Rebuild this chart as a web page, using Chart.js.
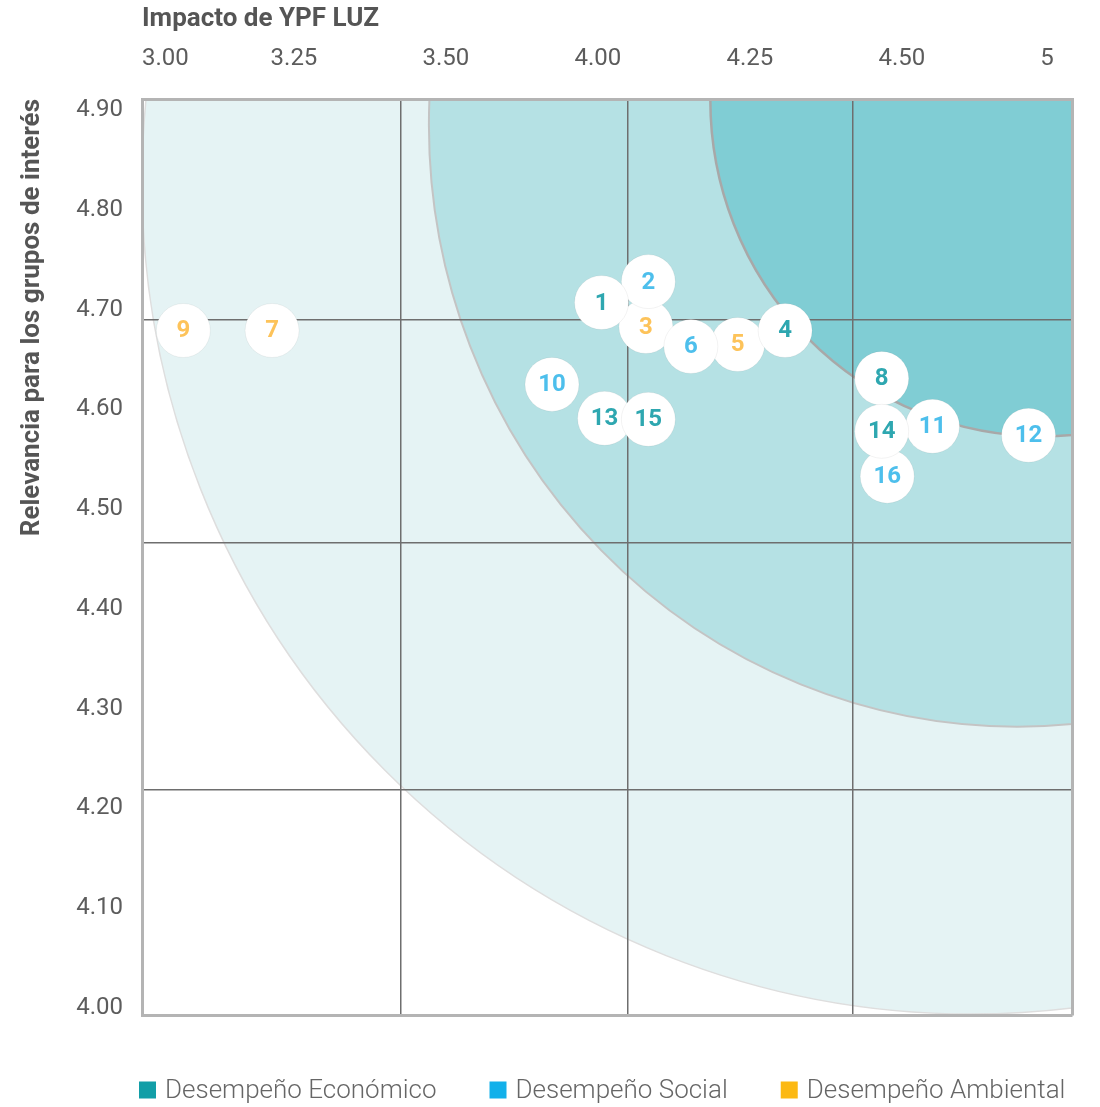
<!DOCTYPE html>
<html>
<head>
<meta charset="utf-8">
<script src="https://cdn.jsdelivr.net/npm/chart.js@4.4.1/dist/chart.umd.min.js"></script>
<style>
  html, body { margin: 0; padding: 0; background: #ffffff; }
  #wrap { width: 1100px; height: 1107px; position: relative; }
</style>
</head>
<body>
<div id="wrap"><canvas id="chart"></canvas></div>
<script>
// ---------- data ----------
const categories = ['Desempeño Económico', 'Desempeño Social', 'Desempeño Ambiental'];

const economicIds        = [1, 4, 8, 13, 14, 15];
const economicImpact     = [4.006, 4.308, 4.467, 4.011, 4.467, 4.083];
const economicRelevance  = [4.707, 4.679, 4.631, 4.591, 4.578, 4.590];

const socialIds          = [2, 6, 10, 11, 12, 16];
const socialImpact       = [4.083, 4.153, 3.849, 4.601, 4.917, 4.476];
const socialRelevance    = [4.728, 4.663, 4.625, 4.583, 4.574, 4.533];

const environmentalIds       = [3, 5, 7, 9];
const environmentalImpact    = [4.079, 4.230, 3.214, 3.068];
const environmentalRelevance = [4.683, 4.665, 4.679, 4.679];

const xTickValues = [3.00, 3.25, 3.50, 4.00, 4.25, 4.50, 5];
const xTickLabels = ['3.00', '3.25', '3.50', '4.00', '4.25', '4.50', '5'];
const yTickValues = [4.00, 4.10, 4.20, 4.30, 4.40, 4.50, 4.60, 4.70, 4.80, 4.90];
const yTickLabels = ['4.00', '4.10', '4.20', '4.30', '4.40', '4.50', '4.60', '4.70', '4.80', '4.90'];

// quadrant grid divisions (impact / relevance units)
const xGridAt = [3.426, 4.049, 4.42];
const yGridAt = [4.219, 4.466, 4.690];

// materiality zones (outer -> inner): centre, leftmost impact, lowest relevance
const zoneCenterImpact    = [4.729, 4.880, 4.962];
const zoneCenterRelevance = [4.828, 4.885, 4.910];
const zoneLeft            = [3.000, 3.472, 4.185];
const zoneBottom          = [3.994, 4.282, 4.573];

// ---------- styles ----------
const zoneFill        = ['#e5f3f4', '#b5e1e4', '#80cdd4'];
const zoneStroke      = ['#dedede', '#c4c4c4', '#a8a8a8'];
const zoneStrokeWidth = [1.5, 2, 2.5];
const numberColors = ['#2ea7b0', '#4dbfec', '#fdc35a'];
const legendColors = ['#129ea7', '#12b0ea', '#fcb913'];
const idsByDataset = [economicIds, socialIds, environmentalIds];

// impact value -> position on the evenly spaced impact axis
function toAxis(v) {
  const t = xTickValues;
  let i = 0;
  while (i < t.length - 2 && v > t[i + 1]) i++;
  return i + (v - t[i]) / (t[i + 1] - t[i]);
}
function points(imp, rel) {
  return imp.map((v, i) => ({ x: toAxis(v), y: rel[i] }));
}

const zonesPlugin = {
  id: 'zones',
  beforeDraw(chart) {
    const { ctx, chartArea: a, scales: { x, y } } = chart;
    ctx.save();
    ctx.beginPath();
    ctx.rect(a.left, a.top, a.right - a.left, a.bottom - a.top);
    ctx.clip();
    zoneLeft.forEach((lv, i) => {
      const cx = x.getPixelForValue(toAxis(zoneCenterImpact[i]));
      const cy = y.getPixelForValue(zoneCenterRelevance[i]);
      const rx = cx - x.getPixelForValue(toAxis(lv));
      const ry = y.getPixelForValue(zoneBottom[i]) - cy;
      ctx.beginPath();
      ctx.ellipse(cx, cy, rx, ry, 0, 0, Math.PI * 2);
      ctx.fillStyle = zoneFill[i];
      ctx.fill();
      ctx.lineWidth = zoneStrokeWidth[i];
      ctx.strokeStyle = zoneStroke[i];
      ctx.stroke();
    });
    ctx.restore();
  }
};

const numberLabels = {
  id: 'numberLabels',
  afterDatasetsDraw(chart) {
    const { ctx } = chart;
    ctx.save();
    ctx.font = 'bold 24px Roboto';
    ctx.textAlign = 'center';
    ctx.textBaseline = 'middle';
    chart.data.datasets.forEach((ds, di) => {
      const meta = chart.getDatasetMeta(di);
      ctx.fillStyle = numberColors[di];
      meta.data.forEach((el, i) => {
        ctx.fillText(String(idsByDataset[di][i]), el.x, el.y + 1);
      });
    });
    ctx.restore();
  }
};

const categoryLegend = {
  id: 'categoryLegend',
  afterDraw(chart) {
    const { ctx, chartArea: a } = chart;
    const cy = a.bottom + 75;
    ctx.save();
    ctx.font = '300 26px Roboto';
    ctx.textAlign = 'left';
    ctx.textBaseline = 'middle';
    let x = a.left - 3;
    categories.forEach((t, i) => {
      ctx.fillStyle = legendColors[i];
      ctx.fillRect(x, cy - 8.5, 17, 17);
      ctx.fillStyle = '#666666';
      ctx.fillText(t, x + 26, cy + 1);
      x += 26 + ctx.measureText(t).width + 53;
    });
    ctx.restore();
  }
};

const datasets = [
  { label: categories[0], data: points(economicImpact, economicRelevance) },
  { label: categories[1], data: points(socialImpact, socialRelevance) },
  { label: categories[2], data: points(environmentalImpact, environmentalRelevance) }
].map(d => Object.assign(d, {
  pointRadius: 27, pointHoverRadius: 27,
  backgroundColor: '#ffffff', borderColor: 'rgba(0,0,0,0.05)', borderWidth: 1
}));

const tickFont = { family: 'Roboto', size: 24 };
const titleFont = { family: 'Roboto', size: 26, weight: 'bold' };
const borderStyle = { display: true, color: '#b4b4b4', width: 3 };
const gridStyle = { color: '#6e6e6e', lineWidth: 1.5, drawTicks: false };
const X_MAX = 6.12, Y_MIN = 3.993, Y_MAX = 4.911;

new Chart(document.getElementById('chart'), {
  type: 'scatter',
  data: { datasets },
  options: {
    responsive: true,
    maintainAspectRatio: false,
    animation: false,
    events: [],
    layout: { padding: { left: 0, right: 25, top: 0, bottom: 86 } },
    plugins: {
      tooltip: { enabled: false },
      legend: { display: false }
    },
    scales: {
      x: {
        type: 'linear', position: 'top', min: 0, max: X_MAX,
        afterBuildTicks: s => { s.ticks = xTickValues.map((v, i) => ({ value: i })); },
        afterFit: s => { s.height = 99; s.paddingLeft = 0; s.paddingRight = 0; },
        ticks: {
          callback: (v, i) => xTickLabels[i], align: 'inner', autoSkip: false,
          maxRotation: 0, padding: 26, color: '#5c5c5c', font: tickFont
        },
        grid: { display: false, drawTicks: false },
        border: borderStyle,
        title: {
          display: true, text: 'Impacto de YPF LUZ', align: 'start',
          color: '#555555', font: titleFont, padding: { top: 4, bottom: 0 }
        }
      },
      y: {
        type: 'linear', position: 'left', min: Y_MIN, max: Y_MAX,
        afterBuildTicks: s => { s.ticks = yTickValues.map(v => ({ value: v })); },
        afterFit: s => { s.width = 142; s.paddingTop = 0; s.paddingBottom = 0; },
        ticks: {
          callback: (v, i) => yTickLabels[i], autoSkip: false,
          padding: 19, color: '#5c5c5c', font: tickFont
        },
        grid: { display: false, drawTicks: false },
        border: borderStyle,
        title: {
          display: true, text: 'Relevancia para los grupos de interés', align: 'end',
          color: '#555555', font: titleFont, padding: { top: 17, bottom: 0 }
        }
      },
      xg: {
        type: 'linear', position: 'bottom', min: 0, max: X_MAX,
        afterBuildTicks: s => { s.ticks = xGridAt.map(v => ({ value: toAxis(v) })); },
        afterFit: s => { s.height = 6; },
        ticks: { display: false },
        grid: gridStyle,
        border: borderStyle
      },
      yg: {
        type: 'linear', position: 'right', min: Y_MIN, max: Y_MAX,
        afterBuildTicks: s => { s.ticks = yGridAt.map(v => ({ value: v })); },
        afterFit: s => { s.width = 0; },
        ticks: { display: false },
        grid: gridStyle,
        border: borderStyle
      }
    }
  },
  plugins: [zonesPlugin, numberLabels, categoryLegend]
});
</script>
</body>
</html>
